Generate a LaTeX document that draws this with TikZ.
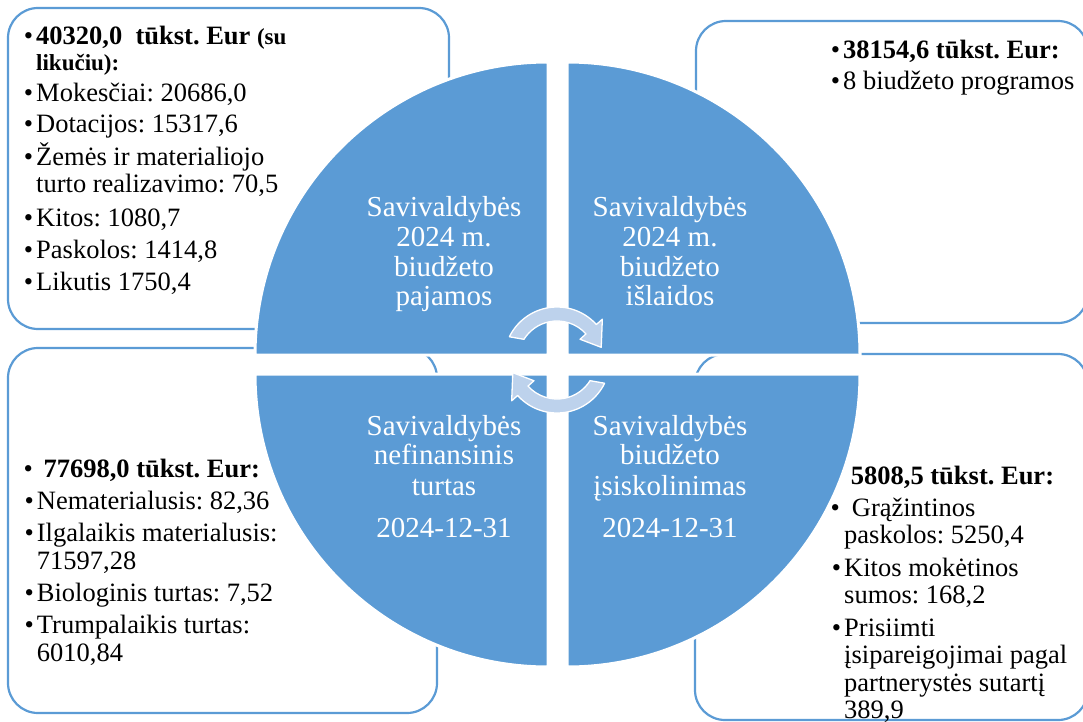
\documentclass[tikz,border=0pt]{standalone}
\usepackage{fontspec}
\setmainfont{Liberation Serif}
\definecolor{qblue}{HTML}{5B9BD5}
\definecolor{arrfill}{HTML}{BDD2EC}
\newcommand\bul[1][3pt]{\llap{•\hspace{#1}}}
\frenchspacing
\begin{document}
\begin{tikzpicture}[x=1pt,y=-1pt,
  box/.style={draw=qblue, line width=2.2pt, rounded corners=30pt, fill=white},
  quad/.style={fill=qblue, draw=white, line width=3pt},
  arrowshape/.style={fill=arrfill, draw=white, line width=1.3pt, line join=round},
  txt/.style={anchor=base west, inner sep=0pt, font=\fontsize{26.5}{28}\selectfont},
  qtxt/.style={anchor=base, inner sep=0pt, text=white, font=\fontsize{29}{30}\selectfont}]
\useasboundingbox (0,0) rectangle (1083,722);

% boxes
\draw[box] (8,8) rectangle (449,329);
\draw[box] (696,21) rectangle (1088,323);
\draw[box] (8,348) rectangle (437,713);
\draw[box] (695,354) rectangle (1088,720);

% quadrants
\path[quad] (548,355) -- (255,355) arc[start angle=180, end angle=270, radius=293] -- cycle;
\path[quad] (567,355) -- (567,62) arc[start angle=270, end angle=360, radius=293] -- cycle;
\path[quad] (548,374) -- (255,374) arc[start angle=180, end angle=90, radius=293] -- cycle;
\path[quad] (567,374) -- (860,374) arc[start angle=0, end angle=90, radius=293] -- cycle;

% circular arrows
\coordinate (ctr) at (557,360);
\begin{scope}[shift={(ctr)}]
\path[arrowshape] (206:53) arc[start angle=206, end angle=318, radius=53] -- (318:61) -- (344:46) -- (318:31) -- (318:39) arc[start angle=318, end angle=212, radius=39] -- cycle;
\path[arrowshape] (26:53) arc[start angle=26, end angle=138, radius=53] -- (138:61) -- (164:46) -- (138:31) -- (138:39) arc[start angle=138, end angle=32, radius=39] -- cycle;
\end{scope}

% quadrant texts
\node[qtxt] (q1a) at (444,216) {Savivaldybės};
\node[qtxt] (q1b) at (444,246.7) {2024 m.};
\node[qtxt] (q1c) at (444,276) {biudžeto};
\node[qtxt] (q1d) at (444,305) {pajamos};
\node[qtxt] (q2a) at (670,216) {Savivaldybės};
\node[qtxt] (q2b) at (670,246.7) {2024 m.};
\node[qtxt] (q2c) at (670,276) {biudžeto};
\node[qtxt] (q2d) at (670,305) {išlaidos};
\node[qtxt] (q3a) at (444,435) {Savivaldybės};
\node[qtxt] (q3b) at (444,464.5) {nefinansinis};
\node[qtxt] (q3c) at (444,495) {turtas};
\node[qtxt] (q3d) at (444,537.8) {2024-12-31};
\node[qtxt] (q4a) at (670,435) {Savivaldybės};
\node[qtxt] (q4b) at (670,464.5) {biudžeto};
\node[qtxt] (q4c) at (670,495) {įsiskolinimas};
\node[qtxt] (q4d) at (670,537.8) {2024-12-31};

% top-left box
\node[txt] (tl0) at (36,45) {\bul\textbf{40320,0~~tūkst. Eur} {\fontsize{23}{25}\selectfont\textbf{(su}}};
\node[txt] (tl0b) at (36,70.7) {\fontsize{23}{25}\selectfont\textbf{likučiu):}};
\node[txt] (tl1) at (36,101.7) {\bul Mokesčiai: 20686,0};
\node[txt] (tl2) at (36,133) {\bul Dotacijos: 15317,6};
\node[txt] (tl3) at (36,165.7) {\bul Žemės ir materialiojo};
\node[txt] (tl3b) at (36,193) {turto realizavimo: 70,5};
\node[txt] (tl4) at (36,226) {\bul Kitos: 1080,7};
\node[txt] (tl5) at (36,258) {\bul Paskolos: 1414,8};
\node[txt] (tl6) at (36,290.7) {\bul Likutis 1750,4};

% top-right box
\node[txt] (tr0) at (843,58.3) {\bul\textbf{38154,6 tūkst. Eur:}};
\node[txt] (tr1) at (843,89.3) {\bul 8 biudžeto programos};

% bottom-left box
\node[txt] (bl0) at (43.3,477.3) {\bul[10.7pt]\textbf{77698,0 tūkst. Eur:}};
\node[txt] (bl1) at (36.7,509.3) {\bul Nematerialusis: 82,36};
\node[txt] (bl2) at (36.7,541.7) {\bul Ilgalaikis materialusis:};
\node[txt] (bl2b) at (36.7,569.3) {71597,28};
\node[txt] (bl3) at (36.7,601.7) {\bul Biologinis turtas: 7,52};
\node[txt] (bl4) at (36.7,633.3) {\bul Trumpalaikis turtas:};
\node[txt] (bl4b) at (36.7,661.7) {6010,84};

% bottom-right box
\node[txt] (br0) at (850.7,484) {\textbf{5808,5 tūkst. Eur:}};
\node[txt] (br1) at (851.7,516) {\bul[12pt]Grąžintinos};
\node[txt] (br1b) at (844,543.3) {paskolos: 5250,4};
\node[txt] (br2) at (844,576) {\bul Kitos mokėtinos};
\node[txt] (br2b) at (844,603.3) {sumos: 168,2};
\node[txt] (br3) at (844,636) {\bul Prisiimti};
\node[txt] (br3b) at (844,663.3) {įsipareigojimai pagal};
\node[txt] (br3c) at (844,691.7) {partnerystės sutartį};
\node[txt] (br3d) at (844,718.3) {389,9};
\end{tikzpicture}
\end{document}
